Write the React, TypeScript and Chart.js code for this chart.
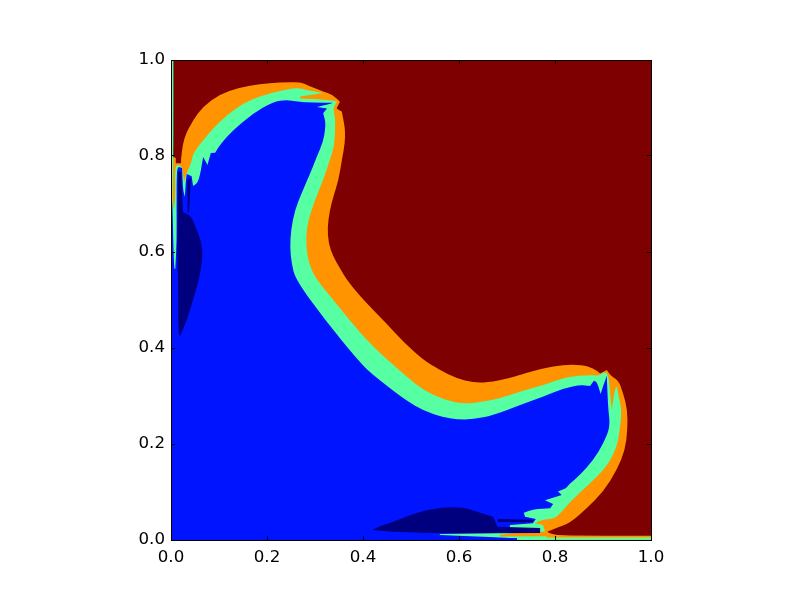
import React, { useEffect, useRef } from "react";
import { Chart, registerables } from "chart.js";

Chart.register(...registerables);

type Pair = [number, number];

const axisTicks = [0, 0.2, 0.4, 0.6, 0.8, 1.0];

const levelRed: Pair[] = [[0, 0], [0, 1], [1, 1], [1, 0]];

const levelOrange: Pair[] = [
  [0, 0], [0, .798], [.006, .798], [.01, .796], [.01, .785], [.021, .785], [.021, .796], [.027, .839],
  [.046, .875], [.067, .903], [.102, .929], [.144, .943], [.185, .95], [.227, .953], [.269, .954],
  [.283, .948], [.317, .934], [.338, .927], [.352, .913], [.345, .899], [.356, .892], [.361, .865],
  [.3625, .854], [.3625, .827], [.356, .792], [.349, .75], [.338, .715], [.331, .6875], [.326, .653],
  [.328, .618], [.338, .59], [.352, .566], [.366, .542], [.394, .508], [.421, .479], [.449, .451],
  [.484, .413], [.526, .375], [.56, .354], [.595, .337], [.63, .328], [.658, .328], [.706, .337],
  [.727, .344], [.776, .358], [.817, .365], [.856, .365], [.88, .358], [.894, .347], [.908, .354],
  [.918, .34], [.932, .333], [.942, .306], [.951, .271], [.951, .229], [.946, .1875], [.929, .146],
  [.901, .101], [.866, .066], [.831, .035], [.8, .024], [.783, .017], [.794, .0125], [.81, .009],
  [1, .009], [1, 0],
];

const levelGreen: Pair[] = [
  [0, 0], [0, .719], [.003, .715], [.006, .6875], [.009, .715], [.008, .771], [.0125, .781], [.021, .779],
  [.025, .767], [.027, .746], [.035, .771], [.042, .785], [.046, .806], [.067, .833], [.088, .858],
  [.116, .885], [.151, .91], [.185, .924], [.22, .934], [.262, .943], [.283, .9375], [.317, .931],
  [.269, .924], [.269, .92], [.321, .918], [.346, .9135], [.3375, .9], [.342, .881], [.342, .854],
  [.34, .819], [.331, .792], [.317, .75], [.3, .708], [.286, .667], [.281, .632], [.284, .59],
  [.293, .5625], [.304, .542], [.346, .49], [.394, .432], [.421, .403], [.456, .371], [.491, .34], [.526, .3125],
  [.567, .293], [.609, .283], [.651, .288], [.685, .295], [.727, .309], [.776, .323], [.824, .34],
  [.873, .344], [.89, .342], [.901, .349], [.908, .348], [.913, .333], [.915, .306], [.918, .271],
  [.925, .316], [.929, .319], [.934, .292], [.939, .271], [.935, .229], [.929, .194], [.908, .153],
  [.873, .118], [.835, .083], [.814, .059], [.8, .045], [.776, .043], [.758, .035], [.775, .031],
  [.779, .019], [.783, .008], [.779, 0],
];

const levelBlue: Pair[] = [
  [0, 0], [0, .715], [.003, .708], [.005, .604], [.007, .565], [.009, .565], [.012, .625], [.0115, .698],
  [.012, .771], [.016, .777], [.023, .775], [.025, .729], [.029, .715], [.031, .75], [.033, .7625],
  [.043, .758], [.046, .7375], [.058, .746], [.067, .798], [.076, .781], [.083, .806], [.092, .807],
  [.102, .823], [.126, .851], [.171, .889], [.213, .913], [.241, .917], [.262, .913], [.296, .911],
  [.338, .911], [.325, .907], [.304, .902], [.325, .899], [.317, .889], [.322, .871], [.321, .854],
  [.317, .83], [.304, .799], [.29, .764], [.272, .722], [.258, .6875], [.25, .646], [.248, .611],
  [.251, .576], [.26, .542], [.321, .458], [.394, .369], [.421, .344], [.456, .316], [.491, .29], [.526, .269],
  [.567, .256], [.595, .251], [.63, .251], [.671, .26], [.727, .281], [.776, .299], [.817, .316],
  [.852, .323], [.873, .321], [.881, .332], [.888, .328], [.895, .304], [.902, .326], [.908, .342],
  [.909, .3125], [.911, .271], [.915, .236], [.901, .201], [.88, .167], [.852, .135], [.828, .115],
  [.824, .108], [.806, .101], [.814, .094], [.779, .083], [.796, .075], [.79, .066], [.755, .064],
  [.735, .057], [.7375, .0485], [.76, .044], [.754, .035], [.706, .031], [.706, .015], [.56, .0125],
  [.56, .0104], [.685, .0048], [.721, .004], [.721, 0],
];

const leftGreenStrip: Pair[] = [[0, 1], [.005, 1], [.005, .798], [.003, .715], [0, .715]];
const bottomGreenStrip: Pair[] = [[.721, .0052], [1, .0052], [1, .0006], [.721, .0006]];
const orangeSliver: Pair[] = [[.685, .0104], [.721, .0152], [.77, .016], [.785, .019], [.785, .008], [.685, .0073]];

const darkLeftBlob: Pair[] = [
  [.015, .767], [.021, .767], [.025, .683], [.033, .679], [.043, .673], [.054, .646], [.064, .618],
  [.066, .59], [.06, .549], [.046, .5], [.033, .458], [.019, .425], [.015, .431], [.015, .535], [.013, .604],
];
const darkLeftFinger: Pair[] = [[.034, .75], [.041, .754], [.04, .729], [.0375, .683], [.035, .683]];
const darkBottomBlob: Pair[] = [
  [.42, .021], [.435, .029], [.463, .038], [.498, .052], [.533, .0625], [.567, .068], [.609, .068],
  [.637, .059], [.671, .0485], [.677, .035], [.68, .0277], [.769, .025], [.769, .0146], [.56, .014], [.4625, .0173],
];
const darkBottomStreak: Pair[] = [[.681, .044], [.754, .042], [.754, .0375], [.681, .0375]];

const RED = "#7f0000";
const ORANGE = "#ff9400";
const GREEN = "#55ffa2";
const BLUE = "#0014ff";
const NAVY = "#00007f";

const regions: [Pair[], string][] = [
  [levelRed, RED],
  [levelOrange, ORANGE],
  [levelGreen, GREEN],
  [levelBlue, BLUE],
  [leftGreenStrip, GREEN],
  [bottomGreenStrip, GREEN],
  [orangeSliver, ORANGE],
  [darkLeftBlob, NAVY],
  [darkLeftFinger, NAVY],
  [darkBottomBlob, NAVY],
  [darkBottomStreak, NAVY],
];

// Rounds gentle bends of a contour, and keeps its spikes and corners sharp.
function tracePolygon(ctx: CanvasRenderingContext2D, pts: any[]) {
  const n = pts.length;
  ctx.beginPath();
  ctx.moveTo(pts[0].x, pts[0].y);
  for (let i = 1; i < n; i++) {
    const p = pts[i];
    const a = pts[i - 1];
    const b = pts[(i + 1) % n];
    const ux = p.x - a.x;
    const uy = p.y - a.y;
    const vx = b.x - p.x;
    const vy = b.y - p.y;
    const cos = (ux * vx + uy * vy) / (Math.hypot(ux, uy) * Math.hypot(vx, vy) || 1);
    if (cos > 0.7 && i < n - 1) {
      ctx.lineTo((a.x + p.x) / 2, (a.y + p.y) / 2);
      ctx.quadraticCurveTo(p.x, p.y, (p.x + b.x) / 2, (p.y + b.y) / 2);
    } else {
      ctx.lineTo(p.x, p.y);
    }
  }
  ctx.closePath();
}

const polygonFill = {
  id: "polygonFill",
  beforeDatasetsDraw(chart: any) {
    const { ctx } = chart;
    ctx.save();
    chart.data.datasets.forEach((ds: any, i: number) => {
      tracePolygon(ctx, chart.getDatasetMeta(i).data);
      ctx.fillStyle = ds.backgroundColor;
      ctx.fill();
    });
    ctx.restore();
  },
};

const FONT = { family: "'DejaVu Sans'", size: 16.67 };

function axis(position: string, labelled: boolean, size: number) {
  const horizontal = position === "top" || position === "bottom";
  return {
    type: "linear",
    position,
    min: 0,
    max: 1,
    afterBuildTicks: (s: any) => { s.ticks = axisTicks.map((value) => ({ value })); },
    afterFit: (s: any) => { if (horizontal) s.height = size; else s.width = size; },
    grid: { drawOnChartArea: false, drawTicks: true, tickLength: -4, color: "#000", lineWidth: 1, z: 1 },
    border: { display: true, color: "#000", width: 1, z: 2 },
    ticks: {
      display: labelled,
      autoSkip: false,
      maxRotation: 0,
      minRotation: 0,
      color: "#000",
      font: FONT,
      padding: horizontal ? 12 : 10,
      callback: (v: any) => Number(v).toFixed(1),
    },
  };
}

export default function App() {
  const ref = useRef<HTMLCanvasElement>(null);
  useEffect(() => {
    const chart = new Chart(ref.current as HTMLCanvasElement, {
      type: "scatter",
      data: {
        datasets: regions.map(([pts, color]) => ({
          data: pts.map(([x, y]) => ({ x, y })),
          backgroundColor: color,
          showLine: false,
          pointRadius: 0,
          clip: false,
        })),
      },
      options: {
        animation: false,
        responsive: false,
        devicePixelRatio: 1,
        layout: { padding: { left: 0, right: 149, top: 60, bottom: 0 } },
        plugins: { legend: { display: false }, tooltip: { enabled: false }, title: { display: false } },
        scales: {
          x: axis("bottom", true, 60),
          y: axis("left", true, 171),
          x2: axis("top", false, 0),
          y2: axis("right", false, 0),
        },
      },
      plugins: [polygonFill],
    } as any);
    return () => chart.destroy();
  }, []);
  return (
    <canvas
      ref={ref}
      width={800}
      height={600}
      style={{ position: "absolute", left: 0, top: 0, width: 800, height: 600, background: "#fff" }}
    />
  );
}
